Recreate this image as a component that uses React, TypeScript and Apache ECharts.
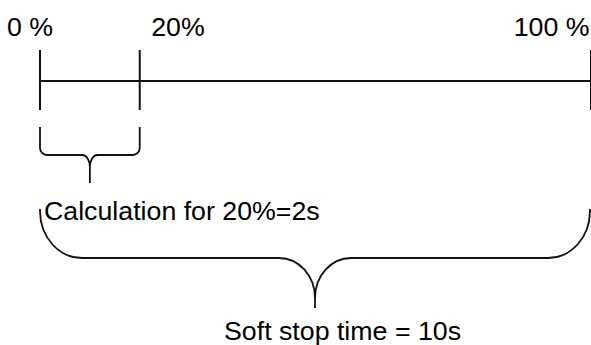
import React, { useEffect, useRef } from "react";
import * as echarts from "echarts";

// ---- data ----
// position of each tick along the line, as drawn (percent of the line)
const TICK_VALUES = [0, 18.1, 100];
const TICK_LABELS = ["0 %", "20%", "100 %"];
const BRACE_FROM = [0, 0];
const BRACE_TO = [18.1, 100];
const BRACE_LABELS = ["Calculation for 20%=2s", "Soft stop time = 10s"];

// ---- layout (pixels) ----
const W = 591;
const H = 345;
const LINE_Y = 81;
const TICK_TOP = 50;
const TICK_BOTTOM = 110;
const FONT_SIZE = 25;
const TEXT_SCALE_X = 1.07;
const TICK_LABEL_BASELINE = 36;
const TICK_LABEL_DX = [-33, 11.5, -1.5];
const TICK_LABEL_ALIGN = ["left", "left", "right"];
const BRACE_TOP = [127, 209];
const BRACE_MID = [155, 258];
const BRACE_TIP = [183, 308];
const BRACE_CORNER_RX = [7, 42];
const BRACE_CORNER_RY = [7, 47];
const BRACE_NOTCH_W = [7.5, 36];
const BRACE_NOTCH_H = [12, 40];
const BRACE_LABEL_BASELINE = [220, 340];
const BRACE_LABEL_ANCHOR = ["start", "center"];
const BRACE_LABEL_DX = [4, -91];
const BRACE_RIGHT_INSET = [0, 1];

const INK = "#111";
const FONT = `${FONT_SIZE}px 'Liberation Sans', Arial, sans-serif`;
const K = 0.5523;

function textEl(text: string, x: number, baseline: number, align: string) {
  return {
    type: "text",
    x,
    y: baseline - 0.3465 * FONT_SIZE,
    scaleX: TEXT_SCALE_X,
    style: {
      text,
      x: 0,
      y: 0,
      fill: "#000",
      font: FONT,
      align,
      verticalAlign: "middle",
    },
  };
}

function bracePath(x1: number, x2: number, i: number) {
  const yTop = BRACE_TOP[i];
  const yH = BRACE_MID[i];
  const yTip = BRACE_TIP[i];
  const rx = BRACE_CORNER_RX[i];
  const ry = BRACE_CORNER_RY[i];
  const nw = BRACE_NOTCH_W[i];
  const nh = BRACE_NOTCH_H[i];
  const xm = (x1 + x2) / 2;
  const p: string[] = [];
  p.push(`M ${x1} ${yTop}`);
  p.push(`L ${x1} ${yH - ry}`);
  p.push(`C ${x1} ${yH - ry + K * ry} ${x1 + rx - K * rx} ${yH} ${x1 + rx} ${yH}`);
  p.push(`L ${xm - nw} ${yH}`);
  p.push(`C ${xm - nw + K * nw} ${yH} ${xm} ${yH + nh - K * nh} ${xm} ${yH + nh}`);
  p.push(`L ${xm} ${yTip}`);
  p.push(`M ${xm} ${yH + nh}`);
  p.push(`C ${xm} ${yH + nh - K * nh} ${xm + nw - K * nw} ${yH} ${xm + nw} ${yH}`);
  p.push(`L ${x2 - rx} ${yH}`);
  p.push(`C ${x2 - rx + K * rx} ${yH} ${x2} ${yH - ry + K * ry} ${x2} ${yH - ry}`);
  p.push(`L ${x2} ${yTop}`);
  return p.join(" ");
}

export default function App() {
  const ref = useRef<HTMLDivElement>(null);
  useEffect(() => {
    if (!ref.current) return;
    const chart = echarts.init(ref.current, undefined, { renderer: "svg" });
    chart.setOption({
      animation: false,
      backgroundColor: "#fff",
      grid: { left: 40, right: 0, top: 0, bottom: 0 },
      xAxis: { type: "value", min: 0, max: 100, show: false },
      yAxis: { type: "value", min: 0, max: H, inverse: true, show: false },
      series: [
        {
          type: "custom",
          clip: false,
          silent: true,
          data: [[TICK_VALUES[0], TICK_VALUES[TICK_VALUES.length - 1]]],
          renderItem: (_p: any, api: any) => {
            const a = api.coord([api.value(0), LINE_Y]);
            const b = api.coord([api.value(1), LINE_Y]);
            return {
              type: "line",
              shape: { x1: a[0], y1: a[1], x2: b[0], y2: b[1] },
              style: { stroke: INK, lineWidth: 2 },
            };
          },
        },
        {
          type: "custom",
          clip: false,
          silent: true,
          data: TICK_VALUES.map((v) => [v, 0]),
          renderItem: (params: any, api: any) => {
            const i = params.dataIndex;
            const t = api.coord([api.value(0), TICK_TOP]);
            const b = api.coord([api.value(0), TICK_BOTTOM]);
            return {
              type: "group",
              children: [
                {
                  type: "line",
                  shape: { x1: t[0], y1: t[1], x2: b[0], y2: b[1] },
                  style: { stroke: INK, lineWidth: 2 },
                },
                textEl(TICK_LABELS[i], t[0] + TICK_LABEL_DX[i], TICK_LABEL_BASELINE, TICK_LABEL_ALIGN[i]),
              ],
            };
          },
        },
        {
          type: "custom",
          clip: false,
          silent: true,
          data: BRACE_FROM.map((f, i) => [f, BRACE_TO[i]]),
          renderItem: (params: any, api: any) => {
            const i = params.dataIndex;
            const x1 = api.coord([api.value(0), 0])[0];
            const x2 = api.coord([api.value(1), 0])[0] - BRACE_RIGHT_INSET[i];
            const anchor = BRACE_LABEL_ANCHOR[i] === "start" ? x1 : (x1 + x2) / 2;
            return {
              type: "group",
              children: [
                {
                  type: "path",
                  shape: { pathData: bracePath(x1, x2, i) },
                  style: { stroke: INK, lineWidth: 1.8, fill: "none" },
                },
                textEl(BRACE_LABELS[i], anchor + BRACE_LABEL_DX[i], BRACE_LABEL_BASELINE[i], "left"),
              ],
            };
          },
        },
      ],
    });
    return () => chart.dispose();
  }, []);
  return (
    <div
      ref={ref}
      style={{ position: "fixed", left: 0, top: 0, width: W, height: H }}
    />
  );
}
